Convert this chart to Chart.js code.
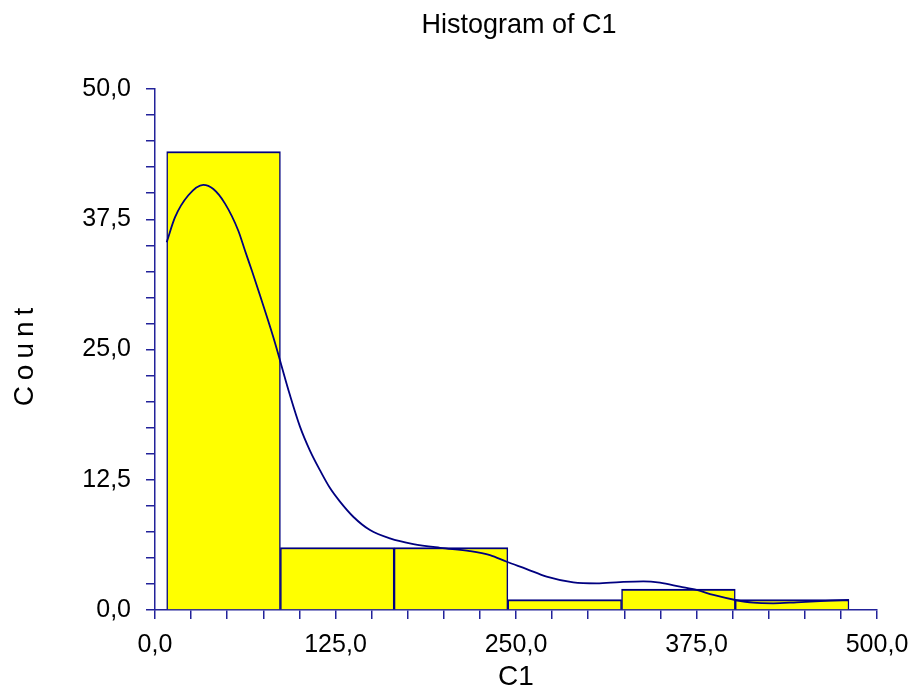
<!DOCTYPE html>
<html>
<head>
<meta charset="utf-8">
<script src="https://cdn.jsdelivr.net/npm/chart.js@4.4.1/dist/chart.umd.min.js"></script>
<style>
  html, body { margin: 0; padding: 0; background: #ffffff; }
  #wrap { width: 913px; height: 692px; }
</style>
</head>
<body>
<div id="wrap"><canvas id="hist" width="913" height="692"></canvas></div>
<script>
// Histogram bins of C1 (equal-width bins) and their counts
const binEdges = [8.1, 86.85, 165.6, 244.35, 323.1, 401.85, 480.6];
const binCounts = [44, 6, 6, 1, 2, 1];

// Smoothed density curve, scaled to counts
const curveX = [8.1, 13.9, 23.1, 33.4, 40.4, 48.5, 57.7, 62.3, 67.0, 72.7, 81.9, 93.5, 100.4,
  107.3, 114.3, 121.2, 128.1, 137.3, 148.9, 162.7, 178.9, 197.4, 218.1, 232, 243.6, 257.4,
  271.2, 289.7, 305.9, 322, 338.2, 349.7, 363.6, 375.1, 386.7, 401.9, 414.3, 428.2, 444.4,
  467.5, 480.6];
const curveY = [35.3, 37.7, 39.8, 40.8, 40.4, 39.0, 36.4, 34.5, 32.6, 30.2, 26.2, 20.6, 17.6,
  15.3, 13.4, 11.7, 10.4, 8.95, 7.67, 6.87, 6.33, 5.97, 5.66, 5.27, 4.63, 3.93,
  3.2, 2.65, 2.56, 2.68, 2.75, 2.62, 2.24, 1.92, 1.44, 0.96, 0.7, 0.64, 0.74,
  0.9, 0.96];

// Axis ranges and labelled tick spacing
const xRange = [0, 500];
const yRange = [0, 50];
const xMinorStep = 25, xLabelStep = 125;
const yMinorStep = 2.5, yLabelStep = 12.5;

const NAVY = '#000080';
const AXIS = '#22229a';
const FONT = '"Liberation Sans", Arial, sans-serif';

const barData = binCounts.map((c, i) => ({ x: (binEdges[i] + binEdges[i + 1]) / 2, y: c }));
const curveData = curveX.map((x, i) => ({ x: x, y: curveY[i] }));

const fmt = v => v.toFixed(1).replace('.', ',');
const isLabelled = (v, step) => Math.abs(v / step - Math.round(v / step)) < 1e-6;

// Title and axis captions
const captions = {
  id: 'captions',
  afterDraw(chart) {
    const ctx = chart.ctx;
    const area = chart.chartArea;
    ctx.save();
    ctx.fillStyle = '#000000';
    ctx.textBaseline = 'alphabetic';
    ctx.textAlign = 'center';

    ctx.font = '28px ' + FONT;
    ctx.fillText('Histogram of C1', 519, 33, 195);

    ctx.fillText('C1', (area.left + area.right) / 2, 685);

    ctx.translate(33, 357);
    ctx.rotate(-Math.PI / 2);
    ctx.letterSpacing = '6px';
    ctx.fillText('Count', 3, 0);
    ctx.restore();
  }
};

new Chart(document.getElementById('hist'), {
  type: 'bar',
  data: {
    datasets: [
      {
        type: 'line',
        xAxisID: 'x',
        data: curveData,
        borderColor: NAVY,
        borderWidth: 1.8,
        pointRadius: 0,
        fill: false,
        tension: 0.4,
        cubicInterpolationMode: 'monotone',
        order: 0
      },
      {
        type: 'bar',
        xAxisID: 'xb',
        data: barData,
        backgroundColor: '#ffff00',
        borderColor: NAVY,
        borderWidth: { top: 2, left: 1.5, right: 1.5, bottom: 0 },
        borderSkipped: false,
        grouped: false,
        barPercentage: 1,
        categoryPercentage: 1,
        order: 1
      }
    ]
  },
  options: {
    responsive: false,
    animation: false,
    events: [],
    layout: { padding: { top: 89, right: 36, left: 0, bottom: 0 } },
    plugins: { legend: { display: false }, title: { display: false }, tooltip: { enabled: false } },
    scales: {
      x: {
        type: 'linear',
        min: xRange[0],
        max: xRange[1],
        offset: false,
        afterFit(scale) { scale.height = 82; scale.paddingRight = 0; scale.paddingLeft = 0; },
        border: { display: true, color: AXIS, width: 1.5 },
        grid: { offset: false, drawOnChartArea: false, drawTicks: true, tickLength: 9, color: AXIS, lineWidth: 1.5 },
        ticks: {
          stepSize: xMinorStep,
          autoSkip: false,
          maxRotation: 0,
          padding: 11,
          color: '#000000',
          font: { family: FONT, size: 25 },
          callback: v => isLabelled(v, xLabelStep) ? fmt(v) : ''
        }
      },
      // same range as x; carries the bins so bar width follows the bin spacing
      xb: {
        type: 'linear',
        min: xRange[0],
        max: xRange[1],
        offset: false,
        display: false,
        afterBuildTicks(scale) { scale.ticks = []; }
      },
      y: {
        type: 'linear',
        min: yRange[0],
        max: yRange[1],
        afterFit(scale) { scale.width = 155; },
        border: { display: true, color: AXIS, width: 1.5 },
        grid: { offset: false, drawOnChartArea: false, drawTicks: true, tickLength: 9, color: AXIS, lineWidth: 1.5 },
        ticks: {
          stepSize: yMinorStep,
          autoSkip: false,
          padding: 15,
          color: '#000000',
          font: { family: FONT, size: 25 },
          callback: v => isLabelled(v, yLabelStep) ? fmt(v) : ''
        }
      }
    }
  },
  plugins: [captions]
});
</script>
</body>
</html>
